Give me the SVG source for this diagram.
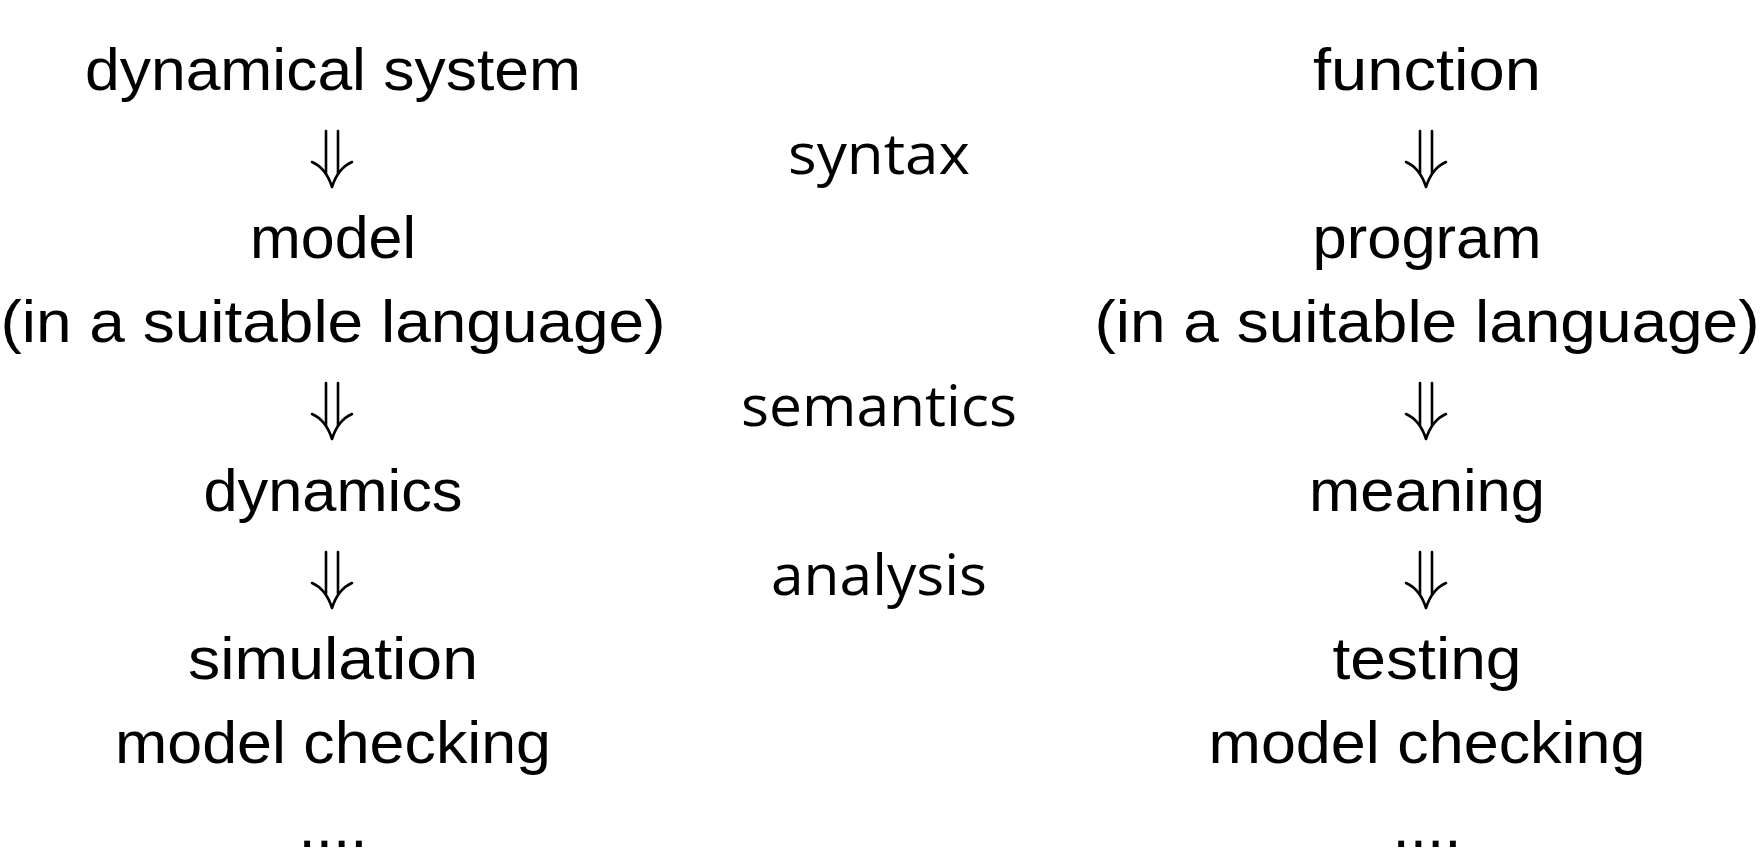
<svg xmlns="http://www.w3.org/2000/svg" xmlns:xlink="http://www.w3.org/1999/xlink" width="1760" height="862" viewBox="0 0 1760 862">
  <style>
    .t { font-family: "Liberation Sans", Arial, sans-serif; font-size: 60px; fill: #000; text-anchor: middle; }
    .m { font-family: "Open Sans", "Liberation Sans", sans-serif; font-size: 57px; fill: #000; text-anchor: middle; }
    .arr { fill: none; stroke: #000; stroke-width: 2.6; stroke-linecap: round; stroke-linejoin: round; }
  </style>
  <defs>
    <g id="darr">
      <path class="arr" d="M-6,-43 V-1 M6,-43 V-1"/>
      <path class="arr" d="M-20,-12 Q-6,-6 0,13 Q6,-6 20,-12"/>
    </g>
  </defs>
  <rect width="1760" height="862" fill="#fff"/>

  <g id="left">
    <g id="n-dynamical-system"><text class="t" x="333" y="90" textLength="496" lengthAdjust="spacingAndGlyphs">dynamical system</text></g>
    <g id="n-model"><text class="t" x="333" y="258" textLength="166" lengthAdjust="spacingAndGlyphs">model</text>
      <text class="t" x="333" y="342" textLength="665" lengthAdjust="spacingAndGlyphs">(in a suitable language)</text></g>
    <g id="n-dynamics"><text class="t" x="333" y="511" textLength="259" lengthAdjust="spacingAndGlyphs">dynamics</text></g>
    <g id="n-simulation"><text class="t" x="333" y="679" textLength="290" lengthAdjust="spacingAndGlyphs">simulation</text>
      <text class="t" x="333" y="763" textLength="436" lengthAdjust="spacingAndGlyphs">model checking</text>
      <text class="t" x="333" y="847" textLength="69" lengthAdjust="spacingAndGlyphs">....</text></g>
  </g>

  <g id="middle">
    <g id="l-syntax"><text class="m" x="879" y="174" textLength="182" lengthAdjust="spacingAndGlyphs">syntax</text></g>
    <g id="l-semantics"><text class="m" x="879" y="426" textLength="276" lengthAdjust="spacingAndGlyphs">semantics</text></g>
    <g id="l-analysis"><text class="m" x="879" y="595" textLength="216" lengthAdjust="spacingAndGlyphs">analysis</text></g>
  </g>

  <g id="right">
    <g id="n-function"><text class="t" x="1427" y="90" textLength="228" lengthAdjust="spacingAndGlyphs">function</text></g>
    <g id="n-program"><text class="t" x="1427" y="258" textLength="229" lengthAdjust="spacingAndGlyphs">program</text>
      <text class="t" x="1427" y="342" textLength="665" lengthAdjust="spacingAndGlyphs">(in a suitable language)</text></g>
    <g id="n-meaning"><text class="t" x="1427" y="511" textLength="236" lengthAdjust="spacingAndGlyphs">meaning</text></g>
    <g id="n-testing"><text class="t" x="1427" y="679" textLength="189" lengthAdjust="spacingAndGlyphs">testing</text>
      <text class="t" x="1427" y="763" textLength="437" lengthAdjust="spacingAndGlyphs">model checking</text>
      <text class="t" x="1427" y="847" textLength="69" lengthAdjust="spacingAndGlyphs">....</text></g>
  </g>

  <g id="connectors">
    <use xlink:href="#darr" x="332" y="174"/>
    <use xlink:href="#darr" x="332" y="426"/>
    <use xlink:href="#darr" x="332" y="595"/>
    <use xlink:href="#darr" x="1426" y="174"/>
    <use xlink:href="#darr" x="1426" y="426"/>
    <use xlink:href="#darr" x="1426" y="595"/>
  </g>
</svg>
